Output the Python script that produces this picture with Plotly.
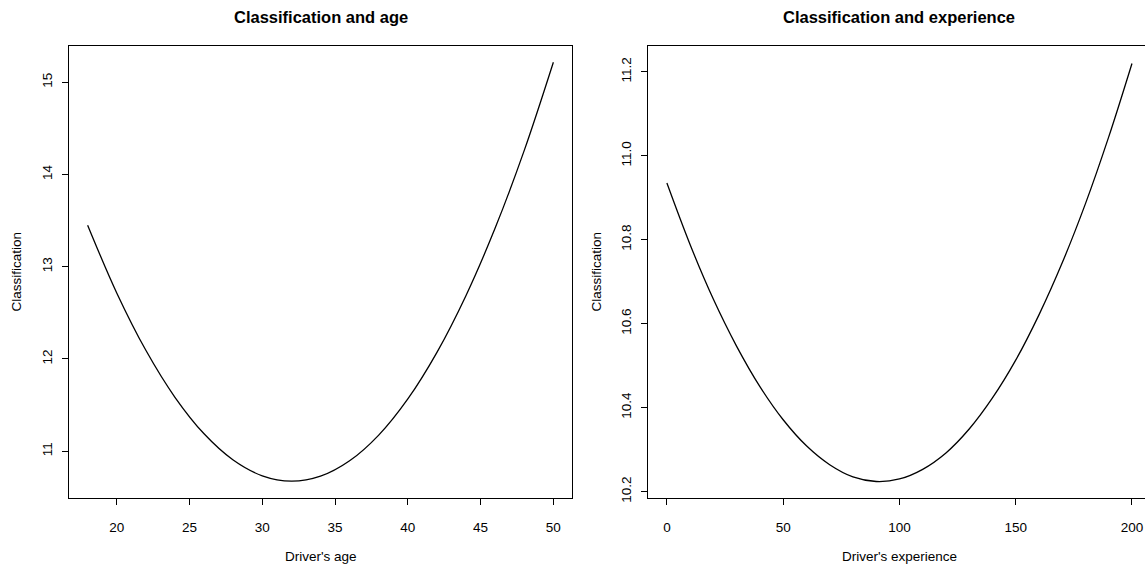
import plotly.graph_objects as go

# Fitted classification by driver's age
age = [18, 20, 22, 24, 26, 28, 30, 32, 34, 36, 38, 40, 42, 44, 46, 48, 50]
class_by_age = [13.450, 12.716, 12.094, 11.585, 11.189, 10.905, 10.734, 10.675,
                10.729, 10.896, 11.175, 11.567, 12.072, 12.689, 13.419, 14.261, 15.217]

# Fitted classification by driver's experience
experience = [0, 10, 20, 30, 40, 50, 60, 70, 80, 90, 100,
              110, 120, 130, 140, 150, 160, 170, 180, 190, 200]
class_by_exp = [10.935, 10.788, 10.658, 10.546, 10.450, 10.371, 10.309, 10.264,
                10.235, 10.224, 10.230, 10.253, 10.292, 10.349, 10.423, 10.513,
                10.621, 10.745, 10.886, 11.045, 11.220]

age_ticks = [20, 25, 30, 35, 40, 45, 50]
age_y_ticks = [11, 12, 13, 14, 15]
exp_ticks = [0, 50, 100, 150, 200]
exp_y_ticks = [10.2, 10.4, 10.6, 10.8, 11.0, 11.2]

W, H = 1145, 570
FONT = "Liberation Sans, Arial, Helvetica, sans-serif"
BASE = 13.5


def px_x(p):
    return p / W


def px_y(p):
    return 1 - p / H


fig = go.Figure()
fig.add_trace(go.Scatter(x=age, y=class_by_age, mode="lines", line_shape="spline",
                         line=dict(color="black", width=1.3), xaxis="x", yaxis="y",
                         showlegend=False, hoverinfo="skip"))
fig.add_trace(go.Scatter(x=experience, y=class_by_exp, mode="lines", line_shape="spline",
                         line=dict(color="black", width=1.3), xaxis="x2", yaxis="y2",
                         showlegend=False, hoverinfo="skip"))

top, bottom = 46, 502.5
ydom = [px_y(bottom), px_y(top)]

axis_common = dict(
    showgrid=False, zeroline=False, showline=True, linecolor="black", linewidth=1,
    ticks="outside", ticklen=6, tickwidth=1, tickcolor="black",
    tickfont=dict(family=FONT, size=BASE, color="black"),
)

fig.update_layout(
    width=W, height=H,
    margin=dict(l=0, r=0, t=0, b=0),
    paper_bgcolor="white", plot_bgcolor="white",
    xaxis=dict(domain=[px_x(69), px_x(572)], range=[16.72, 51.28],
               tickvals=age_ticks, mirror=True, anchor="y",
               ticklabelstandoff=11, **axis_common),
    yaxis=dict(domain=ydom, range=[10.492, 15.397], tickvals=age_y_ticks,
               tickangle=-90, mirror=True, anchor="x",
               ticklabelstandoff=5, **axis_common),
    xaxis2=dict(domain=[px_x(648.3), 1.0], range=[-8, 205.6],
                tickvals=exp_ticks, mirror=True, anchor="y2",
                ticklabelstandoff=11, **axis_common),
    yaxis2=dict(domain=ydom, range=[10.1844, 11.2626], tickvals=exp_y_ticks,
                tickformat=".1f", tickangle=-90, mirror=False, anchor="x2",
                ticklabelstandoff=5, **axis_common),
)

ann_font = dict(family=FONT, size=BASE, color="black")
title_font = dict(family=FONT, size=16.5, color="black")
annotations = [
    dict(text="<b>Classification and age</b>", x=px_x(320.5), y=px_y(17), font=title_font),
    dict(text="<b>Classification and experience</b>", x=px_x(899.4), y=px_y(17), font=title_font),
    dict(text="Driver's age", x=px_x(320.5), y=px_y(561), font=ann_font),
    dict(text="Driver's experience", x=px_x(899.4), y=px_y(561), font=ann_font),
    dict(text="Classification", x=px_x(17), y=px_y(274), textangle=-90, font=ann_font),
    dict(text="Classification", x=px_x(597), y=px_y(274), textangle=-90, font=ann_font),
]
for a in annotations:
    fig.add_annotation(xref="paper", yref="paper", xanchor="center", yanchor="middle",
                       showarrow=False, **a)

fig.write_html("out.html", config={"displayModeBar": False})
